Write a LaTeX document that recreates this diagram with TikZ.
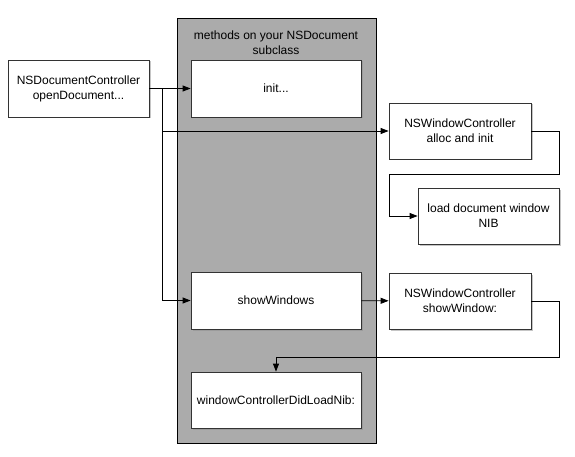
\documentclass[tikz,border=0pt]{standalone}
\usepackage{fontspec}
\setmainfont{Liberation Sans}
\usetikzlibrary{arrows.meta, shadows}

\begin{document}
\begin{tikzpicture}[x = 1pt, y = -1pt,
		every node/.style = {font = \fontsize{12}{15}\selectfont, align = center},
		box/.style = {draw = black!80, fill = white, inner sep = 0pt, drop shadow = {shadow xshift = 1.5pt, shadow yshift = -1.5pt, fill = black!45}},
		meth/.style = {box, minimum width = 170pt, minimum height = 57pt},
		side/.style = {box, minimum width = 142pt, minimum height = 56pt},
		arr/.style = {-{Triangle[length = 8pt, width = 6pt]}},
		line width = 0.8pt]
		\useasboundingbox (0, 0) rectangle (575, 457);
		%%%%%%%%%%%%%
		\node (cls) [draw = black, fill = black!33, minimum width = 199pt, minimum height = 425pt, drop shadow = {shadow xshift = 1pt, shadow yshift = -1pt, fill = black!50}] at (276.5, 230.5) {};
		\node (title) at (276, 42.5) {methods on your NSDocument\\subclass};
		%%%%%%%%%%%%%
		\node (ctl) [side, minimum width = 141pt, minimum height = 57pt] at (78.5, 88.5) {NSDocumentController\\openDocument...};
		\node (init) [meth] at (276, 88.5) {init...};
		\node (alloc) [side] at (460, 131) {NSWindowController\\alloc and init};
		\node (nib) [side, minimum width = 141pt] at (488.5, 216) {load document window\\NIB};
		\node (show) [meth] at (276, 300.5) {showWindows};
		\node (win) [side] at (460, 301) {NSWindowController\\showWindow:};
		\node (did) [meth, minimum height = 56pt] at (276, 400) {windowControllerDidLoadNib:};
		%%%%%%%%%%%%%
		\coordinate (j) at (162.5, 88.5);
		\coordinate (r1) at (559, 174);
		\coordinate (l1) at (389, 174);
		\coordinate (r2) at (559, 357);
		%%%%%%%%%%%%%
		\draw [arr] (ctl) to (init);
		\draw [arr] (j) |- (alloc.west);
		\draw [arr] (j) |- (show.west);
		\draw [arr] (alloc.east) -| (r1) -- (l1) |- (nib.west);
		\draw [arr] (show) to (win);
		\draw [arr] (win.east) -| (r2) -| (did.north);
\end{tikzpicture}
\end{document}
